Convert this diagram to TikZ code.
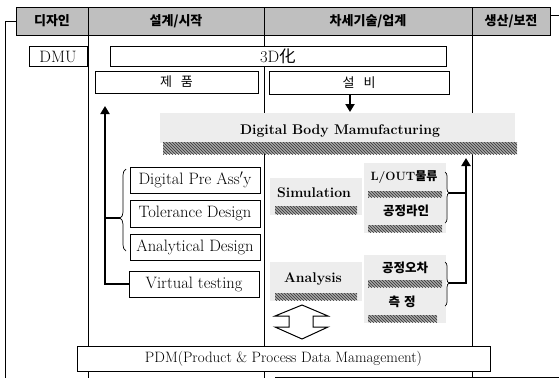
\documentclass[tikz,border=0pt]{standalone}
\usepackage{fontspec}
\newfontfamily\kr{Noto Sans CJK KR}
\usetikzlibrary{arrows.meta,patterns,decorations.pathreplacing}
\begin{document}
\begin{tikzpicture}[x=1pt,y=-1pt,
  rule/.style={line width=0.8pt},
  hdcell/.style={draw,line width=0.9pt,fill=black!25,inner sep=0pt,minimum height=28pt,
    font=\kr\bfseries\fontsize{13}{15}\selectfont},
  cell/.style={draw,line width=0.9pt,fill=white,inner sep=0pt,font=\fontsize{16.5}{18}\selectfont},
  krcell/.style={cell,font=\kr\fontsize{13}{15}\selectfont},
  tag/.style={inner sep=0pt,font=\bfseries\fontsize{14}{16}\selectfont},
  krtag/.style={inner sep=0pt,font=\kr\bfseries\fontsize{12.5}{14}\selectfont},
  haze/.style={fill=black!7},
  hatchband/.style={preaction={fill=black!35},pattern=north west lines,pattern color=black!80},
  heavy/.style={line width=2.2pt},
  heavyarrow/.style={heavy,-{Triangle[length=8pt,width=9pt]}},
  thinbrace/.style={line width=0.7pt,decorate},
]
\useasboundingbox (0,0) rectangle (559,378);

% header row
\node[hdcell,minimum width=72pt]  (hd1) at (52,21)  {디자인};
\node[hdcell,minimum width=176pt] (hd2) at (176,21) {설계/시작};
\node[hdcell,minimum width=208pt] (hd3) at (368,21) {차세기술/업계};
\node[hdcell,minimum width=78pt]  (hd4) at (511,21) {생산/보전};

% frame and column rules
\coordinate (bot) at (0,378);
\coordinate (bl) at (5,378);
\coordinate (bandL) at (275,377);
\coordinate (bandR) at (559,377);
\draw[rule] (hd1.west) -| (bl);
\draw[rule] ([yshift=6pt]hd4.east) -- ++(9,0);
\foreach \h in {hd1,hd2,hd3} \draw[rule] (\h.south east) -- (\h.south east |- bot);
\draw[rule] (bandL) -- (bandR);

% Digital Body Manufacturing slab
\fill[haze] (160,113) rectangle (515,143);
\fill[hatchband] (163,142) rectangle (517,154);
\node[tag] (dbm) at (340,131) {Digital Body Mamufacturing};

% boxes
\node[cell,minimum width=58pt,minimum height=20pt] (dmu) at (58,56.5) {DMU};
\node[cell,minimum width=336pt,minimum height=20pt] (d3) at (278,56) {3D{\kr 化}};
\node[krcell,minimum width=163pt,minimum height=22pt] (prod) at (176.5,82) {제\hspace{9pt}품};
\node[krcell,minimum width=180pt,minimum height=23pt] (equip) at (359,82.5) {설\hspace{9pt}비};
\node[cell,minimum width=130pt,minimum height=26pt] (dpa) at (195,180) {Digital Pre Ass$'$y};
\node[cell,minimum width=130pt,minimum height=27pt] (tol) at (195,213.5) {Tolerance Design};
\node[cell,minimum width=130pt,minimum height=26pt] (ana) at (195,247) {Analytical Design};
\node[cell,minimum width=130pt,minimum height=26pt] (vt) at (194,284) {Virtual testing};
\node[cell,minimum width=413pt,minimum height=25pt,font=\fontsize{15}{17}\selectfont]
  (pdm) at (283.5,358.5) {PDM(Product \& Process Data Mamagement)};

% simulation / analysis blocks
\fill[haze] (270,178) rectangle (362,215);
\fill[haze] (364,163) rectangle (446,233);
\fill[haze] (270,262) rectangle (362,301);
\fill[haze] (364,255) rectangle (446,323);
\fill[hatchband] (275,206) rectangle (357,214);
\fill[hatchband] (368,191) rectangle (442,197);
\fill[hatchband] (368,225) rectangle (442,232);
\fill[hatchband] (275,293) rectangle (357,300);
\fill[hatchband] (368,280) rectangle (442,287);
\fill[hatchband] (368,315) rectangle (437,322);
\node[tag] (sim) at (314,193) {Simulation};
\node[tag,font=\bfseries\fontsize{12}{14}\selectfont] (lout) at (404,177) {L/OUT{\kr 물류}};
\node[krtag] (pline) at (406,211) {공정라인};
\node[tag] (anl) at (313,279) {Analysis};
\node[krtag] (perr) at (405,268) {공정오차};
\node[krtag] (meas) at (402,302) {측\hspace{4pt}정};

% braces
\draw[thinbrace,decoration={brace,amplitude=6pt,aspect=0.4}] (126,251) -- (126,169);
\draw[thinbrace,decoration={brace,amplitude=4pt,aspect=0.41}] (445,172) -- (445,223);
\draw[thinbrace,decoration={brace,amplitude=4pt,aspect=0.48}] (445,262) -- (445,306);

% feedback arrows
\coordinate (upTip) at (105,106);
\coordinate (lbTip) at (120,218);
\coordinate (rb1) at (449,193);
\coordinate (rb2) at (449,283);
\coordinate (rTip) at (466,158);
\coordinate (dTip) at (350,112);
\draw[heavy] (lbTip) -- (lbTip -| upTip);
\draw[heavyarrow] (vt.west) -| (upTip);
\draw[heavy] (rb1) -- (rb1 -| rTip);
\draw[heavyarrow] (rb2) -| (rTip);
\draw[heavyarrow] (equip.south -| dTip) -- (dTip);

% hollow two-way arrow towards PDM
\draw[line width=1pt,fill=white,line join=miter]
  (302,305) -- (328,316) -- (313,316) -- (313,327) -- (328,327) -- (302,339)
  -- (275,327) -- (289,327) -- (289,316) -- (275,316) -- cycle;
\end{tikzpicture}
\end{document}
